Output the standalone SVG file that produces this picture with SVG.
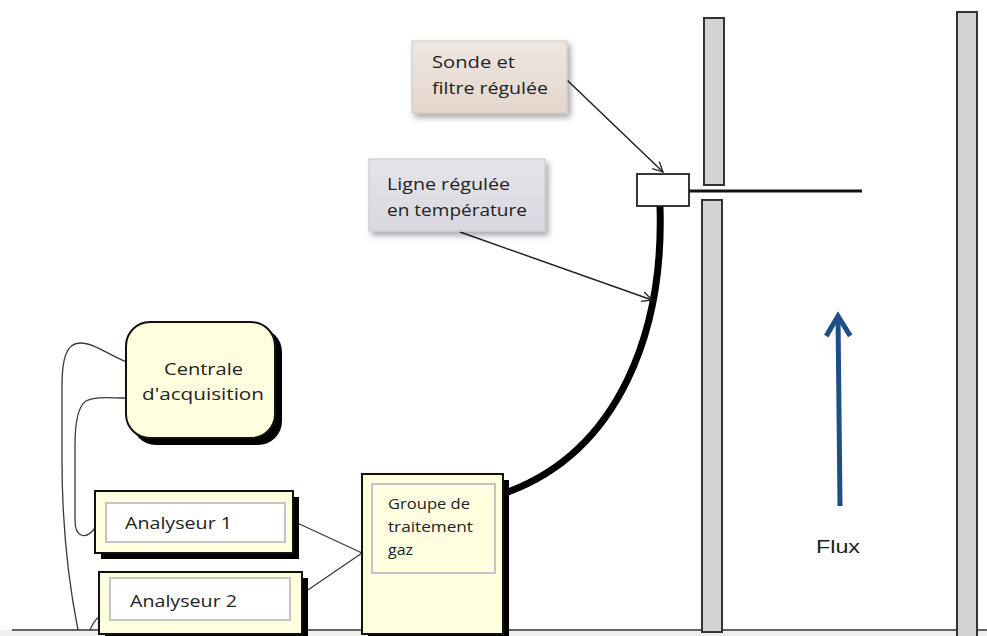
<svg xmlns="http://www.w3.org/2000/svg" width="987" height="636" viewBox="0 0 987 636">
<defs>
<filter id="soft" x="-20%" y="-20%" width="150%" height="160%">
<feDropShadow dx="3" dy="4" stdDeviation="3" flood-color="#000" flood-opacity="0.35"/>
</filter>
<linearGradient id="gSonde" x1="0" y1="0" x2="0" y2="1">
<stop offset="0" stop-color="#efe7e1"/><stop offset="1" stop-color="#e4d6cb"/>
</linearGradient>
<linearGradient id="gLigne" x1="0" y1="0" x2="0" y2="1">
<stop offset="0" stop-color="#e5e4ea"/><stop offset="1" stop-color="#d9d8e0"/>
</linearGradient>
<marker id="open" viewBox="0 0 12 12" refX="11" refY="6" markerWidth="12" markerHeight="12" markerUnits="userSpaceOnUse" orient="auto">
<path d="M1,1 L11,6 L1,11" fill="none" stroke="#222" stroke-width="1.3"/>
</marker>
<marker id="blue" viewBox="0 0 30 30" refX="22" refY="15" markerWidth="30" markerHeight="30" markerUnits="userSpaceOnUse" orient="auto">
<path d="M2,3 L22,15 L2,27" fill="none" stroke="#1f4e85" stroke-width="5" stroke-linejoin="miter"/>
</marker>
</defs>
<style>
.wall{fill:#d3d3d3;stroke:#333;stroke-width:2}
.box{fill:#ffffe0;stroke:#111;stroke-width:2}
.shadow{fill:#000}
.inner{fill:#fff;stroke:#c4c4c4;stroke-width:2}
.innerY{fill:none;stroke:#c4c4c4;stroke-width:2}
.t{font-family:"Open Sans","Noto Sans",sans-serif;fill:#222}
.wire{fill:none;stroke:#3a3a3a;stroke-width:1.3}
</style>

<rect x="0" y="630" width="987" height="6" fill="#efefef"/>
<line x1="12" y1="630" x2="987" y2="630" stroke="#333" stroke-width="1.6"/>

<g id="walls">
<rect class="wall" x="704" y="18" width="20" height="167"/>
<rect class="wall" x="702" y="200" width="20" height="432"/>
<rect class="wall" x="957" y="12" width="20" height="628"/>
</g>

<g id="connectors">
<line x1="689" y1="191" x2="862" y2="191" stroke="#111" stroke-width="3"/>
<path d="M660,206 C664,330 620,450 508,492" fill="none" stroke="#000" stroke-width="7"/>
<line x1="567" y1="80" x2="663" y2="172" stroke="#222" stroke-width="1.5" marker-end="url(#open)"/>
<line x1="460" y1="232" x2="652" y2="300" stroke="#222" stroke-width="1.5" marker-end="url(#open)"/>
<line x1="293" y1="521" x2="362" y2="553" class="wire"/>
<line x1="302" y1="594" x2="362" y2="553" class="wire"/>
<path class="wire" d="M127,362 C110,356 95,343 80,343 C66,343 62,360 62,385 L62,460 C62,530 70,590 78,630"/>
<path class="wire" d="M127,398 C110,398 96,396 86,401 C77,407 75,425 75,445 L75,520 C75,538 86,540 95,528"/>
<path class="wire" d="M99,617 C95,620 92,625 90,630"/>
<line x1="840" y1="506" x2="838" y2="316" stroke="#1f4e85" stroke-width="5" marker-end="url(#blue)"/>
</g>

<g id="probe">
<rect x="637" y="174" width="52" height="32" fill="#fff" stroke="#222" stroke-width="1.8"/>
</g>

<g id="sonde">
<rect x="412" y="41" width="155" height="72" fill="url(#gSonde)" stroke="#cfc5bd" stroke-width="1" filter="url(#soft)"/>
<text class="t" x="432" y="68" font-size="17" textLength="83" lengthAdjust="spacingAndGlyphs">Sonde et</text>
<text class="t" x="432" y="94" font-size="17" textLength="116" lengthAdjust="spacingAndGlyphs">filtre régulée</text>
</g>

<g id="ligne">
<rect x="369" y="159" width="176" height="72" fill="url(#gLigne)" stroke="#c4c3cb" stroke-width="1" filter="url(#soft)"/>
<text class="t" x="387" y="190" font-size="17" textLength="123" lengthAdjust="spacingAndGlyphs">Ligne régulée</text>
<text class="t" x="387" y="216" font-size="17" textLength="140" lengthAdjust="spacingAndGlyphs">en température</text>
</g>

<g id="centrale">
<rect class="shadow" x="132" y="328" width="150" height="117" rx="24"/>
<rect class="box" x="126" y="322" width="149" height="116" rx="24"/>
<text class="t" x="164" y="375" font-size="17" textLength="79" lengthAdjust="spacingAndGlyphs">Centrale</text>
<text class="t" x="142" y="400" font-size="17" textLength="122" lengthAdjust="spacingAndGlyphs">d'acquisition</text>
</g>

<g id="analyseur1">
<rect class="shadow" x="101" y="497" width="198" height="62"/>
<rect class="box" x="95" y="491" width="198" height="62"/>
<rect class="inner" x="106" y="503" width="179" height="39"/>
<text class="t" x="125" y="529" font-size="17" textLength="107" lengthAdjust="spacingAndGlyphs">Analyseur 1</text>
</g>

<g id="analyseur2">
<rect class="shadow" x="105" y="578" width="203" height="62"/>
<rect class="box" x="99" y="572" width="203" height="62"/>
<rect class="inner" x="110" y="578" width="180" height="42"/>
<text class="t" x="130" y="607" font-size="17" textLength="107" lengthAdjust="spacingAndGlyphs">Analyseur 2</text>
</g>

<g id="groupe">
<rect class="shadow" x="368" y="480" width="141" height="160"/>
<rect class="box" x="362" y="474" width="141" height="160"/>
<rect class="innerY" x="372" y="484" width="123" height="89"/>
<text class="t" x="388" y="509" font-size="14" textLength="82" lengthAdjust="spacingAndGlyphs">Groupe de</text>
<text class="t" x="388" y="532" font-size="14" textLength="85" lengthAdjust="spacingAndGlyphs">traitement</text>
<text class="t" x="388" y="555" font-size="14" textLength="25" lengthAdjust="spacingAndGlyphs">gaz</text>
</g>

<g id="flux">
<text x="816" y="553" font-family="Liberation Sans, Arial, sans-serif" font-size="18" fill="#222" textLength="44" lengthAdjust="spacingAndGlyphs">Flux</text>
</g>
</svg>
